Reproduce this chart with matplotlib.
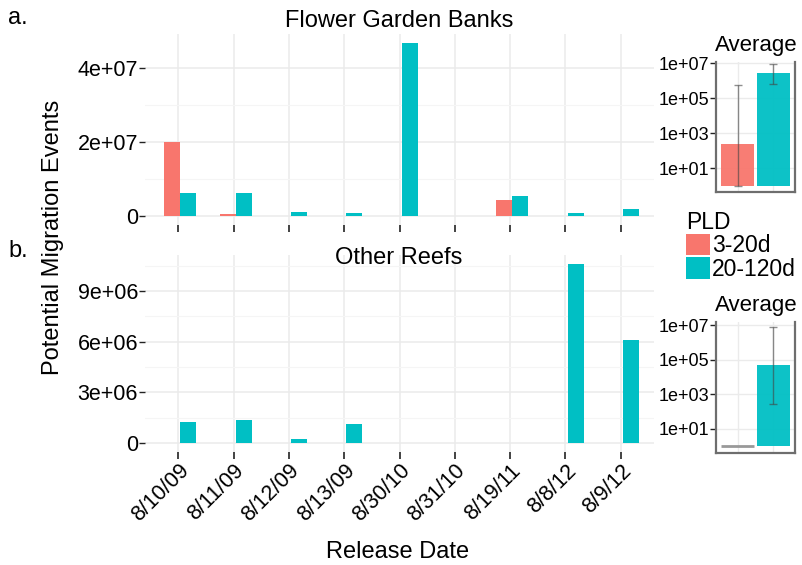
import matplotlib.pyplot as plt
import numpy as np
from matplotlib.patches import Patch
from matplotlib.ticker import FixedLocator, NullLocator

plt.rcParams['font.family'] = ['Liberation Sans', 'DejaVu Sans']

# data
dates = ['8/10/09', '8/11/09', '8/12/09', '8/13/09', '8/30/10',
         '8/31/10', '8/19/11', '8/8/12', '8/9/12']
pld = ['3-20d', '20-120d']
colors = ['#F8766D', '#00BFC4']

fgb_short = [2.0e7, 7e5, 0, 0, 0, 0, 4.3e6, 0, 0]
fgb_long = [6.4e6, 6.2e6, 1.3e6, 0.8e6, 4.67e7, 0, 5.4e6, 0.8e6, 1.9e6]
other_short = [0, 0, 0, 0, 0, 0, 0, 0, 0]
other_long = [1.24e6, 1.36e6, 0.25e6, 1.15e6, 0, 0, 0, 1.06e7, 6.1e6]

fgb_avg = [250, 2.7e6]
fgb_avg_lo = [1, 6.6e5]
fgb_avg_hi = [5.7e5, 8.7e6]
other_avg = [1, 5e4]
other_avg_lo = [np.nan, 250]
other_avg_hi = [np.nan, 8e6]

W, H = 802, 565
fig = plt.figure(figsize=(W / 100, H / 100), dpi=100)


def px_box(x0, y0, x1, y1):
    return [x0 / W, 1 - y1 / H, (x1 - x0) / W, (y1 - y0) / H]


def main_panel(ax, short, long_, yticks, ylabels, yminor, ylim, show_x):
    x = np.arange(1, len(dates) + 1)
    ax.bar(x - 0.105, short, 0.29, color=colors[0], linewidth=0, zorder=3)
    ax.bar(x + 0.185, long_, 0.29, color=colors[1], linewidth=0, zorder=3)
    ax.set_xlim(0.4, len(dates) + 0.6)
    ax.set_ylim(*ylim)
    ax.set_xticks(x)
    ax.yaxis.set_major_locator(FixedLocator(yticks))
    ax.set_yticklabels(ylabels)
    ax.yaxis.set_minor_locator(FixedLocator(yminor))
    ax.grid(True, which='major', color='#EBEBEB', lw=1.1, zorder=0)
    ax.grid(True, which='minor', axis='y', color='#F5F5F5', lw=0.8, zorder=0)
    ax.set_axisbelow(True)
    for s in ax.spines.values():
        s.set_visible(False)
    ax.tick_params(axis='y', which='major', length=4, width=1, color='#222222',
                   labelsize=15.5, pad=1)
    ax.tick_params(axis='y', which='minor', length=0)
    ax.tick_params(axis='x', length=5, width=1.2, color='#222222', pad=1)
    if show_x:
        ax.set_xticklabels(dates, rotation=45, ha='right', va='top',
                           rotation_mode='anchor', fontsize=15.5)
    else:
        ax.set_xticklabels([])


def inset_panel(ax, avg, lo, hi, ylim):
    x = np.arange(1, len(pld) + 1)
    avg = np.array(avg, dtype=float)
    lo = np.array(lo, dtype=float)
    hi = np.array(hi, dtype=float)
    ax.bar(x, avg - 1, 0.9, bottom=1, color=colors, alpha=0.95, linewidth=0, zorder=3)
    flat = avg <= 1
    if flat.any():
        ax.hlines(avg[flat], x[flat] - 0.45, x[flat] + 0.45, color='#999999', lw=2, zorder=3)
    ok = ~np.isnan(lo)
    ax.errorbar(x[ok], avg[ok], yerr=[avg[ok] - lo[ok], hi[ok] - avg[ok]], fmt='none',
                ecolor='#444444', alpha=0.6, capsize=3, elinewidth=1, capthick=1, zorder=4)
    ax.set_yscale('log')
    ax.set_ylim(*ylim)
    ax.set_xlim(0.4, 2.6)
    ax.set_xticks(x)
    ax.set_xticklabels([])
    ax.yaxis.set_major_locator(FixedLocator([1e1, 1e3, 1e5, 1e7]))
    ax.set_yticklabels(['1e+01', '1e+03', '1e+05', '1e+07'])
    ax.yaxis.set_minor_locator(NullLocator())
    ax.grid(True, color='#EBEBEB', lw=1, zorder=0)
    ax.set_axisbelow(True)
    ax.spines['top'].set_visible(False)
    for s in ['left', 'bottom', 'right']:
        ax.spines[s].set_color('#6E6E6E')
        ax.spines[s].set_linewidth(1.6)
    ax.tick_params(axis='y', length=4, width=1, color='#222222', labelsize=13, pad=1)
    ax.tick_params(axis='x', length=0)


ax1 = fig.add_axes(px_box(145, 34, 654, 225))
main_panel(ax1, fgb_short, fgb_long, [0, 2e7, 4e7], ['0', '2e+07', '4e+07'],
           [1e7, 3e7], (-2.3e6, 4.9e7), False)
ax2 = fig.add_axes(px_box(145, 255, 654, 452))
main_panel(ax2, other_short, other_long, [0, 3e6, 6e6, 9e6],
           ['0', '3e+06', '6e+06', '9e+06'], [1.5e6, 4.5e6, 7.5e6, 10.5e6],
           (-5.3e5, 1.113e7), True)

ax3 = fig.add_axes(px_box(716, 62, 795, 192))
inset_panel(ax3, fgb_avg, fgb_avg_lo, fgb_avg_hi, (10 ** -0.354, 10 ** 7.07))
ax4 = fig.add_axes(px_box(716, 322, 795, 453))
inset_panel(ax4, other_avg, other_avg_lo, other_avg_hi, (10 ** -0.42, 10 ** 7.19))

# titles and labels
fig.text(399 / W, 1 - 21 / H, 'Flower Garden Banks', ha='center', va='center', fontsize=17)
fig.text(399 / W, 1 - 258 / H, 'Other Reefs', ha='center', va='center', fontsize=17)
fig.text(756 / W, 1 - 46 / H, 'Average', ha='center', va='center', fontsize=16)
fig.text(756 / W, 1 - 306 / H, 'Average', ha='center', va='center', fontsize=16)
fig.text(8 / W, 1 - 18 / H, 'a.', ha='left', va='center', fontsize=17)
fig.text(8 / W, 1 - 251 / H, 'b.', ha='left', va='center', fontsize=17)
fig.text(53 / W, 1 - 237 / H, 'Potential Migration Events', rotation=90,
         ha='center', va='center', fontsize=17)
fig.text(398 / W, 1 - 552 / H, 'Release Date', ha='center', va='center', fontsize=17)

handles = [Patch(facecolor=c, edgecolor='none') for c in colors]
leg = fig.legend(handles, pld, title='PLD', loc='upper left',
                 bbox_to_anchor=(686 / W, 1 - 211 / H), frameon=False,
                 fontsize=16.5, title_fontsize=16.5, handlelength=1.05,
                 handleheight=1.05, labelspacing=0.0, handletextpad=0.08,
                 borderpad=0, borderaxespad=0)
leg._legend_box.align = 'left'

fig.savefig('out.png', dpi=100)
